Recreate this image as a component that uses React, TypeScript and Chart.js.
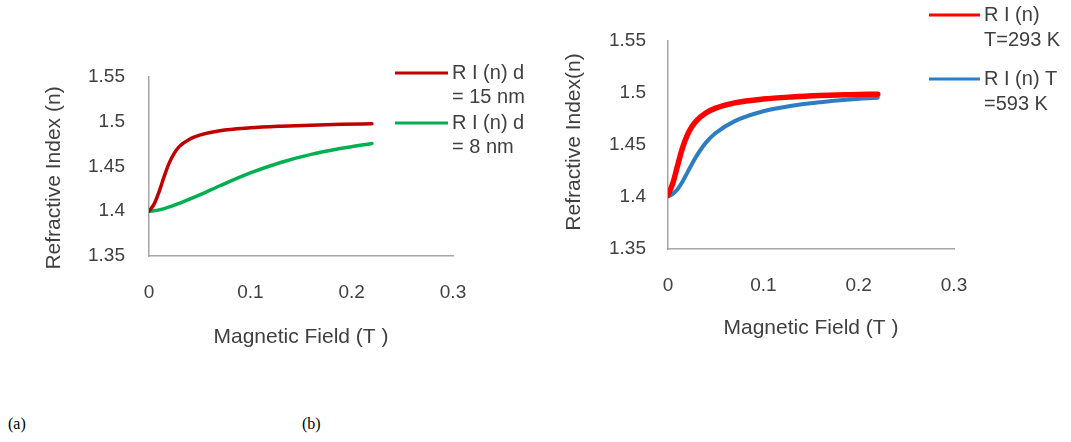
import React, { useEffect, useRef } from "react";
import { Chart, registerables } from "chart.js";

Chart.register(...registerables);

// ---------- data ----------
const fieldT = [0, 0.005, 0.01, 0.015, 0.02, 0.025, 0.03, 0.04, 0.05, 0.07, 0.1, 0.13, 0.16, 0.19, 0.22];
const riD15 = [1.4, 1.408, 1.422, 1.439, 1.454, 1.465, 1.4725, 1.4805, 1.485, 1.49, 1.4932, 1.495, 1.4962, 1.4971, 1.4978];
const riD8 = [1.4, 1.4005, 1.4015, 1.403, 1.4048, 1.4068, 1.409, 1.4135, 1.4183, 1.4285, 1.4428, 1.4545, 1.4635, 1.4703, 1.4758];
const riT293 = [1.402, 1.413, 1.43, 1.4465, 1.459, 1.4675, 1.4735, 1.481, 1.4855, 1.4905, 1.4942, 1.4962, 1.4975, 1.4983, 1.4989];
const riT593 = [1.4005, 1.403, 1.4075, 1.4145, 1.423, 1.4315, 1.4395, 1.4525, 1.4615, 1.473, 1.4825, 1.4878, 1.4912, 1.4937, 1.4955];
const xTicks = [0, 0.1, 0.2, 0.3];
const yTicks = [1.35, 1.4, 1.45, 1.5, 1.55];
const legendA = [["R I (n) d", "= 15 nm"], ["R I (n) d", "= 8 nm"]];
const legendB = [["R I (n)", "T=293 K"], ["R I (n) T", "=593 K"]];
const xTitle = "Magnetic Field (T )";
const yTitleA = "Refractive Index (n)";
const yTitleB = "Refractive Index(n)";

const FONT = "'Liberation Sans', Arial, sans-serif";
const TEXT = "#404040";
const AXIS = "#a6a6a6";
const TICK_SIZE = 19;
const TITLE_SIZE = 21;
const LEGEND_SIZE = 20;

const overlayPlugin = {
  id: "overlay",
  afterDraw(chart: any, _args: any, opts: any) {
    const ctx = chart.ctx;
    ctx.save();
    ctx.fillStyle = TEXT;
    ctx.textBaseline = "middle";
    if (opts.yTitle) {
      ctx.save();
      ctx.font = `${TITLE_SIZE}px ${FONT}`;
      ctx.translate(opts.yTitle.x, opts.yTitle.y);
      ctx.rotate(-Math.PI / 2);
      ctx.textAlign = "center";
      ctx.fillText(opts.yTitle.text, 0, 0);
      ctx.restore();
    }
    const lg = opts.legend;
    if (lg) {
      ctx.font = `${LEGEND_SIZE}px ${FONT}`;
      ctx.textAlign = "left";
      chart.data.datasets.forEach((ds: any, i: number) => {
        const y0 = lg.y + i * lg.itemGap;
        ctx.strokeStyle = ds.borderColor;
        ctx.lineWidth = lg.lineWidth;
        ctx.beginPath();
        ctx.moveTo(lg.x, y0);
        ctx.lineTo(lg.x + lg.lineLen, y0);
        ctx.stroke();
        lg.lines[i].forEach((t: string, j: number) => {
          ctx.fillText(t, lg.x + lg.lineLen + lg.gap, y0 + j * lg.lineHeight);
        });
      });
    }
    ctx.restore();
  },
};

type Cfg = {
  series: { values: number[]; color: string; width: number; label: string }[];
  yWidth: number;
  pad: { top: number; right: number; bottom: number };
  xTickPad: number;
  yTickPad: number;
  xTitlePad: number;
  yTitle: { text: string; x: number; y: number };
  legend: any;
};

function makeConfig(c: Cfg): any {
  return {
    type: "line",
    data: {
      datasets: c.series.map((s) => ({
        label: s.label,
        data: fieldT.map((x, i) => ({ x, y: s.values[i] })),
        borderColor: s.color,
        backgroundColor: s.color,
        borderWidth: s.width,
        pointRadius: 0,
        cubicInterpolationMode: "monotone",
        fill: false,
        borderCapStyle: "round",
        borderJoinStyle: "round",
      })),
    },
    options: {
      responsive: false,
      animation: false,
      events: [],
      layout: { padding: { left: 0, top: c.pad.top, right: c.pad.right, bottom: c.pad.bottom } },
      plugins: {
        legend: { display: false },
        tooltip: { enabled: false },
        overlay: { yTitle: c.yTitle, legend: c.legend },
      },
      scales: {
        x: {
          type: "linear",
          min: 0,
          max: 0.3,
          afterBuildTicks: (s: any) => {
            s.ticks = xTicks.map((v) => ({ value: v }));
          },
          afterFit: (s: any) => {
            s.height = 100;
          },
          grid: { display: false, drawTicks: false },
          border: { display: true, color: AXIS, width: 1.5 },
          ticks: {
            padding: c.xTickPad,
            color: TEXT,
            font: { family: FONT, size: TICK_SIZE },
            maxRotation: 0,
            callback: (v: number) => String(v),
          },
          title: {
            display: true,
            text: xTitle,
            color: TEXT,
            font: { family: FONT, size: TITLE_SIZE },
            padding: { top: 0, bottom: c.xTitlePad },
          },
        },
        y: {
          type: "linear",
          min: 1.35,
          max: 1.55,
          afterBuildTicks: (s: any) => {
            s.ticks = yTicks.map((v) => ({ value: v }));
          },
          afterFit: (s: any) => {
            s.width = c.yWidth;
          },
          grid: { display: false, drawTicks: false },
          border: { display: true, color: AXIS, width: 1.5 },
          ticks: {
            padding: c.yTickPad,
            color: TEXT,
            font: { family: FONT, size: TICK_SIZE },
            callback: (v: number) => String(v),
          },
        },
      },
    },
    plugins: [overlayPlugin],
  };
}

function ChartCanvas({ cfg, w, h, left }: { cfg: Cfg; w: number; h: number; left: number }) {
  const ref = useRef<HTMLCanvasElement | null>(null);
  useEffect(() => {
    if (!ref.current) return;
    const chart = new Chart(ref.current, makeConfig(cfg));
    return () => chart.destroy();
  }, []);
  return (
    <canvas
      ref={ref}
      width={w}
      height={h}
      style={{ position: "absolute", left, top: 0, width: w, height: h }}
    />
  );
}

const cfgA: Cfg = {
  series: [
    { values: riD15, color: "#c00000", width: 3.5, label: legendA[0].join(" ") },
    { values: riD8, color: "#00b050", width: 3.5, label: legendA[1].join(" ") },
  ],
  yWidth: 149,
  pad: { top: 77, right: 87, bottom: 24 },
  xTickPad: 25,
  yTickPad: 24,
  xTitlePad: 6.4,
  yTitle: { text: yTitleA, x: 54, y: 178 },
  legend: { x: 395, y: 73, lineLen: 53, gap: 4, lineWidth: 3, lineHeight: 24, itemGap: 50, lines: legendA },
};

const cfgB: Cfg = {
  series: [
    { values: riT293, color: "#ff0000", width: 5.5, label: legendB[0].join(" ") },
    { values: riT593, color: "#2e7dc0", width: 4, label: legendB[1].join(" ") },
  ],
  yWidth: 128,
  pad: { top: 41, right: 117, bottom: 31 },
  xTickPad: 25,
  yTickPad: 22,
  xTitlePad: 8.4,
  yTitle: { text: yTitleB, x: 34, y: 142 },
  legend: { x: 389, y: 15, lineLen: 51, gap: 4, lineWidth: 3, lineHeight: 25, itemGap: 64, lines: legendB },
};

export default function App() {
  return (
    <div
      style={{
        position: "fixed",
        left: 0,
        top: 0,
        width: 1071,
        height: 442,
        background: "#ffffff",
        overflow: "hidden",
      }}
    >
      <ChartCanvas cfg={cfgA} w={540} h={380} left={0} />
      <ChartCanvas cfg={cfgB} w={531} h={380} left={540} />
      <span
        style={{
          position: "absolute",
          left: 8,
          top: 415,
          fontFamily: "'Liberation Serif', 'Times New Roman', serif",
          fontSize: 16,
          color: "#000",
        }}
      >
        (a)
      </span>
      <span
        style={{
          position: "absolute",
          left: 302,
          top: 415,
          fontFamily: "'Liberation Serif', 'Times New Roman', serif",
          fontSize: 16,
          color: "#000",
        }}
      >
        (b)
      </span>
    </div>
  );
}
